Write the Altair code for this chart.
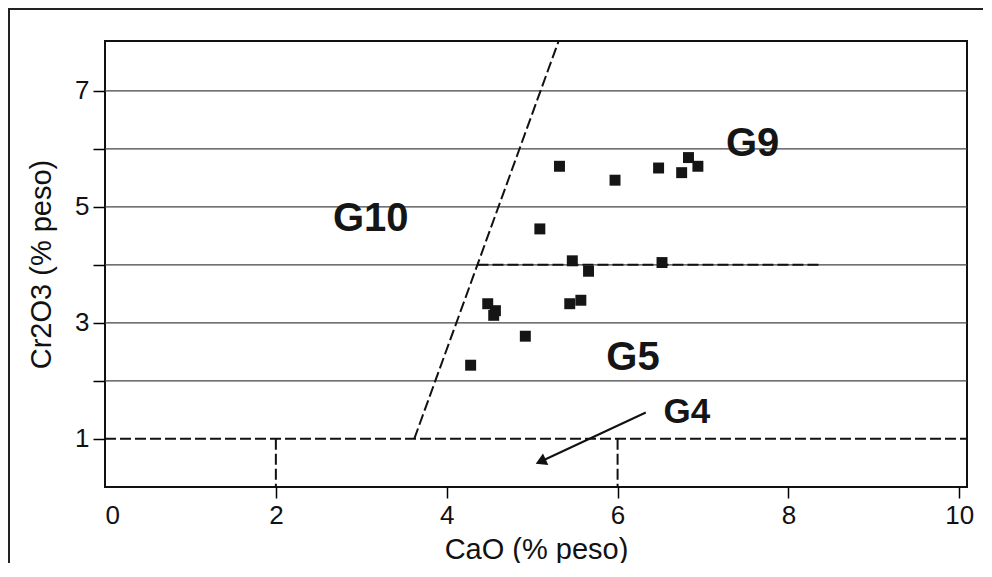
import altair as alt
import pandas as pd

# ---- data ----
cao = [5.32, 5.97, 6.48, 6.75, 6.83, 6.94, 5.09, 5.47, 5.66, 6.52,
       4.48, 4.57, 4.55, 4.92, 4.28, 5.44, 5.57]
cr2o3 = [5.70, 5.46, 5.67, 5.59, 5.85, 5.70, 4.62, 4.07, 3.89, 4.04,
         3.33, 3.21, 3.13, 2.77, 2.27, 3.33, 3.39]

grid_levels = [2, 3, 4, 5, 6, 7]

# dashed field boundaries (x1, y1) -> (x2, y2)
seg_x1 = [0.0, 2.0, 6.0, 3.62, 4.36]
seg_y1 = [1.0, 1.0, 1.0, 1.0, 4.0]
seg_x2 = [10.09, 2.0, 6.0, 5.31, 8.39]
seg_y2 = [1.0, 0.17, 0.17, 7.86, 4.0]

label_text = ["G10", "G9", "G5", "G4"]
label_x = [3.11, 7.58, 6.18, 6.81]
label_y = [4.79, 6.08, 2.40, 1.47]
label_size = [40, 40, 40, 35]

arrow_x1, arrow_y1 = [6.33], [1.455]
arrow_x2, arrow_y2 = [5.10], [0.61]

x_ticks = [0, 2, 4, 6, 8, 10]
y_ticks = [1, 2, 3, 4, 5, 6, 7]
x_domain = [0, 10.09]
y_domain = [0.17, 7.86]

FONT = "Liberation Sans"

points_df = pd.DataFrame({"CaO": cao, "Cr2O3": cr2o3})
grid_df = pd.DataFrame({"y": grid_levels})
seg_df = pd.DataFrame({"x1": seg_x1, "y1": seg_y1, "x2": seg_x2, "y2": seg_y2})
lab_df = pd.DataFrame({"t": label_text, "x": label_x, "y": label_y, "s": label_size})
arrow_df = pd.DataFrame({"x1": arrow_x1, "y1": arrow_y1, "x2": arrow_x2, "y2": arrow_y2})
one = pd.DataFrame({"d": [0]})

xs = alt.Scale(domain=x_domain, nice=False, zero=False)
ys = alt.Scale(domain=y_domain, nice=False, zero=False)

x_axis = alt.Axis(
    values=x_ticks, format="d", title="CaO (% peso)", grid=False, domain=False,
    tickSize=11, tickWidth=1.5,
    tickColor={"condition": {"test": "datum.value == 0", "value": "transparent"}, "value": "black"},
    labelFontSize=26, labelPadding=4, labelColor="#111", labelFont=FONT,
    titleFontSize=29, titleFontWeight="normal", titleFont=FONT, titleColor="#111",
    titleY=62, titleBaseline="middle",
)
y_axis = alt.Axis(
    values=y_ticks, format="d", title="Cr2O3 (% peso)", grid=False, domain=False,
    tickSize=12, tickWidth=1.5, tickColor="black",
    labelExpr="datum.value % 2 == 1 ? datum.label : ''",
    labelFontSize=26, labelPadding=4, labelColor="#111", labelFont=FONT,
    titleFontSize=29, titleFontWeight="normal", titleFont=FONT, titleColor="#111",
    titleX=-64, titleY=223, titleAngle=-90, titleAlign="center", titleBaseline="middle",
)

grid = alt.Chart(grid_df).mark_rule(color="#444", strokeWidth=1.4).encode(
    y=alt.Y("y:Q", scale=ys, axis=y_axis)
)

segs = alt.Chart(seg_df).mark_rule(color="#111", strokeWidth=2, strokeDash=[11, 4]).encode(
    x=alt.X("x1:Q", scale=xs, axis=x_axis),
    y=alt.Y("y1:Q", scale=ys),
    x2="x2:Q",
    y2="y2:Q",
)

pts = alt.Chart(points_df).mark_point(
    shape="square", filled=True, size=120, color="#151515", opacity=1
).encode(x=alt.X("CaO:Q", scale=xs), y=alt.Y("Cr2O3:Q", scale=ys))

labels = alt.Chart(lab_df).mark_text(
    font=FONT, fontWeight="bold", color="#151515", align="center", baseline="middle"
).encode(
    x=alt.X("x:Q", scale=xs), y=alt.Y("y:Q", scale=ys), text="t:N",
    size=alt.Size("s:Q", scale=None, legend=None),
)

arrow_line = alt.Chart(arrow_df).mark_rule(color="#111", strokeWidth=2).encode(
    x=alt.X("x1:Q", scale=xs), y=alt.Y("y1:Q", scale=ys), x2="x2:Q", y2="y2:Q"
)
arrow_head = alt.Chart(arrow_df).mark_point(
    shape="triangle-up", filled=True, size=160, color="#111", opacity=1, angle=245
).encode(x=alt.X("x2:Q", scale=xs), y=alt.Y("y2:Q", scale=ys))

frame_left = alt.Chart(one).mark_rule(color="#222", strokeWidth=2).encode(
    x=alt.value(-96), y=alt.value(-33), y2=alt.value(560)
)
frame_top = alt.Chart(one).mark_rule(color="#222", strokeWidth=2).encode(
    x=alt.value(-97), x2=alt.value(878), y=alt.value(-32)
)

chart = alt.layer(
    grid, segs, arrow_line, arrow_head, pts, labels, frame_left, frame_top
).properties(
    width=862, height=446,
    autosize=alt.AutoSizeParams(type="none"),
    padding={"left": 97, "top": 33, "right": 17, "bottom": 76},
    background="white",
).configure_view(stroke="#111", strokeWidth=2)

chart.save("out.html", embed_options={"renderer": "svg", "actions": False})
